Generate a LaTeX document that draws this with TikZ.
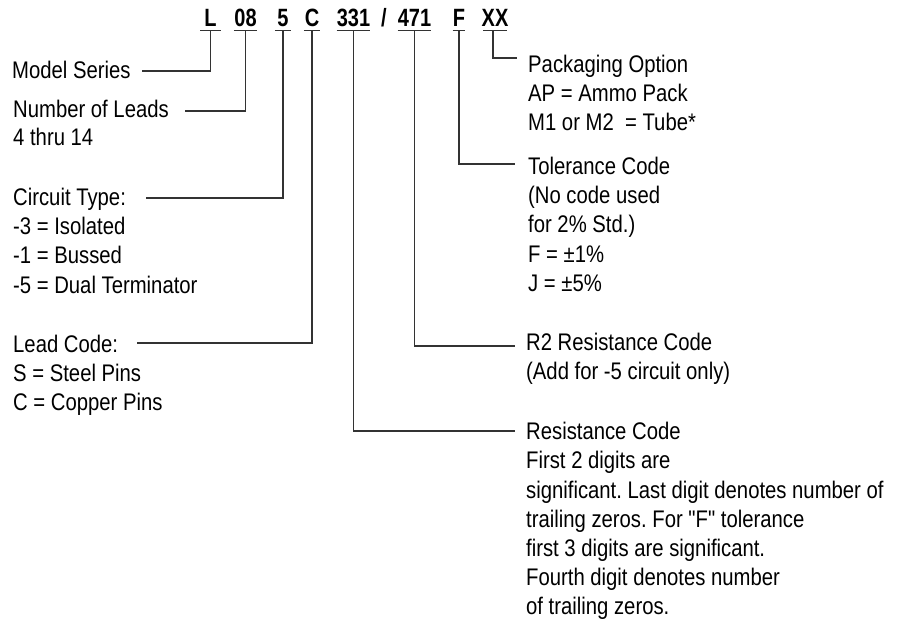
\documentclass[tikz,border=0pt]{standalone}
\usepackage{fontspec}
\setmainfont{Liberation Sans}[FakeStretch=0.845]
\newfontfamily\qfont{Liberation Sans}[FakeStretch=0.845]
\newfontfamily\codefont{Liberation Sans}[FakeStretch=0.8]
\frenchspacing
\begin{document}
\begin{tikzpicture}[x=1pt,y=-1pt,
  lbl/.style={anchor=north west, inner sep=0pt, align=left, font=\fontsize{24}{29.2}\selectfont},
  code/.style={anchor=base, inner sep=0pt, text depth=4pt, font=\codefont\bfseries\fontsize{25}{28}\selectfont},
  lead/.style={line width=1.1pt, draw=black!80}]
\useasboundingbox[fill=white] (0,0) rectangle (920,621);
% code
\node[code, minimum width=20pt] (cL) at (210.5,26) {L};
\node[code, minimum width=23pt] (c08) at (245.5,26) {08};
\node[code, minimum width=16pt] (c5) at (283,26) {5};
\node[code, minimum width=16pt] (cC) at (312,26) {C};
\node[code, minimum width=26pt] (c331) at (353.5,26) {331};
\node[code] (sl) at (384,26) {/};
\node[code, minimum width=28pt] (c471) at (414.5,26) {471};
\node[code, minimum width=12pt] (cF) at (459,26) {F};
\node[code, minimum width=20pt] (cXX) at (495,26) {XX};
% labels
\node[lbl] (ms) at (12,61) {Model Series};
\node[lbl] (nl) at (13,100) {Number of Leads\\[-1.2pt]4 thru 14};
\node[lbl] (ct) at (13,188) {Circuit Type:\\-3 = Isolated\\-1 = Bussed\\-5 = Dual Terminator};
\node[lbl] (lc) at (13,335) {Lead Code:\\S = Steel Pins\\C = Copper Pins};
\node[lbl] (po) at (528,55) {Packaging Option\\AP = Ammo Pack\\M1 or M2 \ = Tube*};
\node[lbl] (tc) at (528,157) {Tolerance Code\\(No code used\\for 2\% Std.)\\F = ±1\%\\J = ±5\%};
\node[lbl] (r2) at (526,333) {R2 Resistance Code\\(Add for -5 circuit only)};
\node[lbl] (rc) at (526,422) {Resistance Code\\First 2 digits are\\significant. Last digit denotes number of\\trailing zeros. For {\qfont"}F{\qfont"} tolerance\\first 3 digits are significant.\\Fourth digit denotes number\\of trailing zeros.};
% connector ends
\coordinate (msE) at (142,71);
\coordinate (nlE) at (185,111);
\coordinate (ctE) at (146,198);
\coordinate (lcE) at (137,343);
\coordinate (poW) at (517,58);
\coordinate (tcW) at (515,164);
\coordinate (r2W) at (515,346);
\coordinate (rcW) at (515,431);
% underlines
\foreach \n in {cL,c08,c5,cC,c331,c471,cF}
  \draw[lead] (\n.south west) -- (\n.south east);
\draw[lead] ([xshift=2pt]cXX.south west) -- ([xshift=-2pt]cXX.south east);
% connectors
\draw[lead] (cL.south) |- (msE);
\draw[lead] (c08.south) |- (nlE);
\draw[lead] (c5.south) |- (ctE);
\draw[lead] (cC.south) |- (lcE);
\draw[lead] (c331.south) |- (rcW);
\draw[lead] (c471.south) |- (r2W);
\draw[lead] (cF.south) |- (tcW);
\draw[lead] ([xshift=-2pt]cXX.south) |- (poW);
\end{tikzpicture}
\end{document}
